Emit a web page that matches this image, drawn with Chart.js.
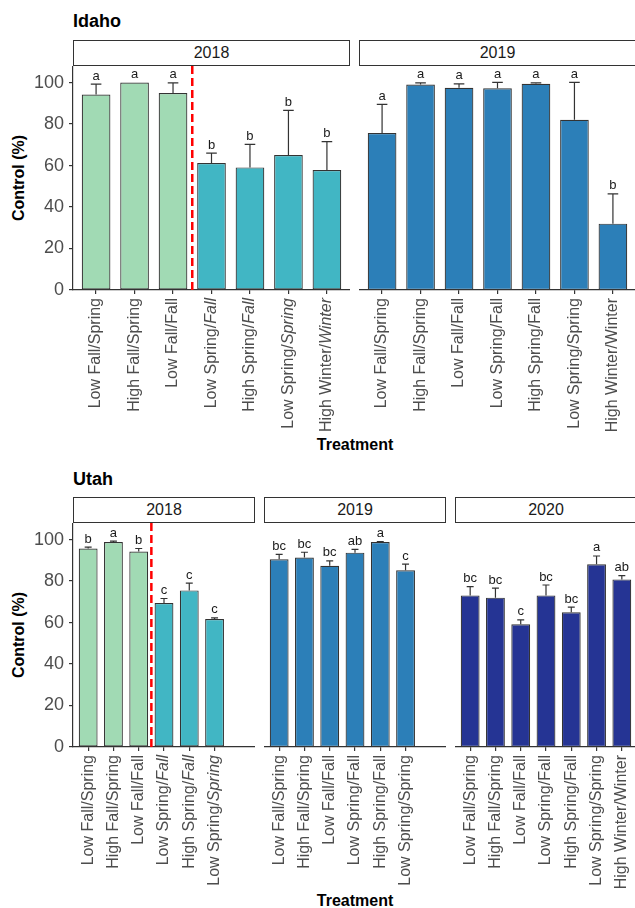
<!DOCTYPE html>
<html>
<head>
<meta charset="utf-8">
<script src="https://cdn.jsdelivr.net/npm/chart.js@4.4.1/dist/chart.umd.min.js"></script>
<style>
  html, body { margin: 0; padding: 0; background: #fff; overflow: hidden; width: 635px; height: 908px; }
  body { position: relative; font-family: 'Liberation Sans', Arial, sans-serif; }
  .title { position: absolute; font-weight: bold; font-size: 18px; line-height: 18px; color: #000; }
  .strip { position: absolute; box-sizing: border-box; height: 26px; border: 1.3px solid #333; background: #fff;
           font-size: 16px; line-height: 23px; text-align: center; color: #1a1a1a; }
  .ylab { position: absolute; font-weight: bold; font-size: 16px; white-space: nowrap; color: #000;
          transform: translate(-50%, -50%) rotate(-90deg); }
  .xlab { position: absolute; font-weight: bold; font-size: 16px; line-height: 16px; color: #000;
          transform: translateX(-50%); }
  canvas { position: absolute; }
</style>
</head>
<body>
<div class="title" style="left:73px; top:12px;">Idaho</div>
<div class="strip" style="left:73px; top:40px; width:277px;">2018</div>
<div class="strip" style="left:359px; top:40px; width:277px;">2019</div>
<div class="ylab" style="left:19px; top:178px;">Control (%)</div>
<div class="xlab" style="left:355px; top:437px;">Treatment</div>

<div class="title" style="left:73px; top:470px;">Utah</div>
<div class="strip" style="left:73px; top:497px; width:182px;">2018</div>
<div class="strip" style="left:264px; top:497px; width:182px;">2019</div>
<div class="strip" style="left:455px; top:497px; width:182px;">2020</div>
<div class="ylab" style="left:19px; top:635px;">Control (%)</div>
<div class="xlab" style="left:355px; top:893px;">Treatment</div>

<canvas id="id2018"></canvas>
<canvas id="id2019"></canvas>
<canvas id="ut2018"></canvas>
<canvas id="ut2019"></canvas>
<canvas id="ut2020"></canvas>

<script>
// ---- data ----
const lightGreen = '#a1dab4';
const teal = '#41b6c4';
const blue = '#2c7fb8';
const navy = '#253494';

const yTicks = [0, 20, 40, 60, 80, 100];

// Idaho 2018
const idaho2018Labels = ['Low Fall/Spring', 'High Fall/Spring', 'Low Fall/Fall', 'Low Spring/Fall',
    'High Spring/Fall', 'Low Spring/Spring', 'High Winter/Winter'];
const idaho2018Italic = [false, false, false, true, true, true, true];
const idaho2018Means = [94.2, 100, 95.0, 61.2, 59.1, 65.1, 57.8];
const idaho2018Errors = [5.1, 0, 4.9, 4.8, 11.1, 21.5, 13.7];
const idaho2018Letters = ['a', 'a', 'a', 'b', 'b', 'b', 'b'];
const idaho2018Colors = [lightGreen, lightGreen, lightGreen, teal, teal, teal, teal];

// Idaho 2019
const idaho2019Labels = ['Low Fall/Spring', 'High Fall/Spring', 'Low Fall/Fall', 'Low Spring/Fall',
    'High Spring/Fall', 'Low Spring/Spring', 'High Winter/Winter'];
const idaho2019Italic = [false, false, false, false, false, false, false];
const idaho2019Means = [75.7, 99.1, 97.5, 97.3, 99.4, 82.1, 32.0];
const idaho2019Errors = [13.8, 0.8, 1.9, 2.8, 0.5, 18.0, 14.3];
const idaho2019Letters = ['a', 'a', 'a', 'a', 'a', 'a', 'b'];
const idaho2019Colors = [blue, blue, blue, blue, blue, blue, blue];

// Utah 2018
const utah2018Labels = ['Low Fall/Spring', 'High Fall/Spring', 'Low Fall/Fall', 'Low Spring/Fall',
    'High Spring/Fall', 'Low Spring/Spring', ''];
const utah2018Italic = [false, false, false, true, true, true, false];
const utah2018Means = [95.7, 98.8, 94.2, 69.4, 75.5, 61.7];
const utah2018Errors = [0.7, 0.5, 1.5, 2.2, 3.5, 0.6];
const utah2018Letters = ['b', 'a', 'b', 'c', 'c', 'c'];
const utah2018Colors = [lightGreen, lightGreen, lightGreen, teal, teal, teal];

// Utah 2019
const utah2019Labels = ['Low Fall/Spring', 'High Fall/Spring', 'Low Fall/Fall', 'Low Spring/Fall',
    'High Spring/Fall', 'Low Spring/Spring', ''];
const utah2019Italic = [false, false, false, false, false, false, false];
const utah2019Means = [90.5, 91.4, 87.4, 93.7, 98.8, 85.2];
const utah2019Errors = [2.4, 2.5, 2.3, 1.6, 0.2, 3.0];
const utah2019Letters = ['bc', 'bc', 'bc', 'ab', 'a', 'c'];
const utah2019Colors = [blue, blue, blue, blue, blue, blue];

// Utah 2020
const utah2020Labels = ['Low Fall/Spring', 'High Fall/Spring', 'Low Fall/Fall', 'Low Spring/Fall',
    'High Spring/Fall', 'Low Spring/Spring', 'High Winter/Winter'];
const utah2020Italic = [false, false, false, false, false, false, false];
const utah2020Means = [73.1, 72.0, 59.2, 73.1, 65.0, 88.1, 80.8];
const utah2020Errors = [4.2, 4.6, 2.1, 5.0, 2.4, 4.0, 1.8];
const utah2020Letters = ['bc', 'bc', 'c', 'bc', 'bc', 'a', 'ab'];
const utah2020Colors = [navy, navy, navy, navy, navy, navy, navy];

// ---- layout of the facets ----
const plotH = 224;
const axisH = 150;
const panels = [
    { id: 'id2018', left: 0, top: 66, yAxis: 73, width: 277, labels: idaho2018Labels, italic: idaho2018Italic,
      means: idaho2018Means, errors: idaho2018Errors, letters: idaho2018Letters, colors: idaho2018Colors, divider: 2.5 },
    { id: 'id2019', left: 359, top: 66, yAxis: 0, width: 277, labels: idaho2019Labels, italic: idaho2019Italic,
      means: idaho2019Means, errors: idaho2019Errors, letters: idaho2019Letters, colors: idaho2019Colors },
    { id: 'ut2018', left: 0, top: 523, yAxis: 73, width: 182, labels: utah2018Labels, italic: utah2018Italic,
      means: utah2018Means, errors: utah2018Errors, letters: utah2018Letters, colors: utah2018Colors, divider: 2.5 },
    { id: 'ut2019', left: 264, top: 523, yAxis: 0, width: 182, labels: utah2019Labels, italic: utah2019Italic,
      means: utah2019Means, errors: utah2019Errors, letters: utah2019Letters, colors: utah2019Colors },
    { id: 'ut2020', left: 455, top: 523, yAxis: 0, width: 182, labels: utah2020Labels, italic: utah2020Italic,
      means: utah2020Means, errors: utah2020Errors, letters: utah2020Letters, colors: utah2020Colors }
];

const labelFont = "16px 'Liberation Sans', Arial, sans-serif";
const labelFontItalic = "italic 16px 'Liberation Sans', Arial, sans-serif";

// error bars, letters, the red divider and the x labels (some are partly italic)
function makeDecor(p) {
    return {
        id: 'decor',
        afterDraw(chart) {
            const ctx = chart.ctx;
            const xs = chart.scales.x;
            const ys = chart.scales.y;
            const area = chart.chartArea;
            const bars = chart.getDatasetMeta(0).data;
            ctx.save();

            if (p.divider !== undefined) {
                const dx = xs.getPixelForValue(p.divider);
                ctx.strokeStyle = '#ff0000';
                ctx.lineWidth = 2.5;
                ctx.setLineDash([8, 4]);
                ctx.beginPath();
                ctx.moveTo(dx, area.top);
                ctx.lineTo(dx, area.bottom);
                ctx.stroke();
                ctx.setLineDash([]);
            }

            ctx.strokeStyle = '#333';
            ctx.lineWidth = 1.2;
            ctx.fillStyle = '#1a1a1a';
            ctx.font = "13px 'Liberation Sans', Arial, sans-serif";
            ctx.textAlign = 'center';
            ctx.textBaseline = 'alphabetic';
            bars.forEach((bar, i) => {
                const topY = ys.getPixelForValue(p.means[i] + p.errors[i]);
                if (p.errors[i] > 0) {
                    const cap = bar.width * 0.37;
                    ctx.beginPath();
                    ctx.moveTo(bar.x, bar.y);
                    ctx.lineTo(bar.x, topY);
                    ctx.moveTo(bar.x - cap / 2, topY);
                    ctx.lineTo(bar.x + cap / 2, topY);
                    ctx.stroke();
                }
                ctx.fillText(p.letters[i], bar.x, topY - 4.5);
            });

            ctx.fillStyle = '#4d4d4d';
            ctx.textAlign = 'left';
            ctx.textBaseline = 'middle';
            p.labels.forEach((label, i) => {
                if (!label) return;
                const parts = label.split('/');
                const first = parts[0] + '/';
                const second = parts[1];
                const x = xs.getPixelForValue(i);
                ctx.save();
                ctx.translate(x, area.bottom + 8);
                ctx.rotate(-Math.PI / 2);
                ctx.font = labelFont;
                const w1 = ctx.measureText(first).width;
                ctx.font = p.italic[i] ? labelFontItalic : labelFont;
                const w2 = ctx.measureText(second).width;
                ctx.font = labelFont;
                ctx.fillText(first, -(w1 + w2), 0);
                ctx.font = p.italic[i] ? labelFontItalic : labelFont;
                ctx.fillText(second, -w2, 0);
                ctx.restore();
            });
            ctx.restore();
        }
    };
}

panels.forEach(p => {
    const canvas = document.getElementById(p.id);
    canvas.width = p.yAxis + p.width;
    canvas.height = plotH + axisH;
    canvas.style.left = p.left + 'px';
    canvas.style.top = p.top + 'px';

    const tickIdx = p.labels.map((l, i) => l ? i : null).filter(v => v !== null);

    new Chart(canvas.getContext('2d'), {
        type: 'bar',
        data: {
            datasets: [{
                data: p.means.map((v, i) => ({ x: i, y: v })),
                backgroundColor: p.colors,
                borderColor: '#333',
                borderWidth: 1.2,
                borderSkipped: false,
                categoryPercentage: 1,
                barPercentage: 0.745
            }]
        },
        options: {
            responsive: false,
            animation: false,
            devicePixelRatio: 1,
            layout: { padding: 0 },
            plugins: { legend: { display: false }, tooltip: { enabled: false } },
            scales: {
                x: {
                    type: 'linear',
                    min: -0.6,
                    max: 6.6,
                    offset: false,
                    afterBuildTicks: axis => { axis.ticks = tickIdx.map(v => ({ value: v })); },
                    afterFit: axis => {
                        axis.height = axisH;
                        axis.paddingLeft = 0;
                        axis.paddingRight = 0;
                    },
                    ticks: { display: false },
                    grid: { display: true, offset: false, drawOnChartArea: false, drawTicks: true, tickLength: 4, color: '#333', lineWidth: 1.2 },
                    border: { display: true, color: '#333', width: 1.2 }
                },
                y: {
                    display: p.yAxis > 0,
                    min: 0,
                    max: 108,
                    afterBuildTicks: axis => { axis.ticks = yTicks.map(v => ({ value: v })); },
                    afterFit: axis => {
                        axis.width = p.yAxis;
                        axis.paddingTop = 0;
                        axis.paddingBottom = 0;
                    },
                    ticks: { color: '#4d4d4d', padding: 5, font: { family: "'Liberation Sans', Arial, sans-serif", size: 18 } },
                    grid: { display: true, drawOnChartArea: false, drawTicks: true, tickLength: 4, color: '#333', lineWidth: 1.2 },
                    border: { display: true, color: '#333', width: 1.2 }
                }
            }
        },
        plugins: [makeDecor(p)]
    });
});
</script>
</body>
</html>
